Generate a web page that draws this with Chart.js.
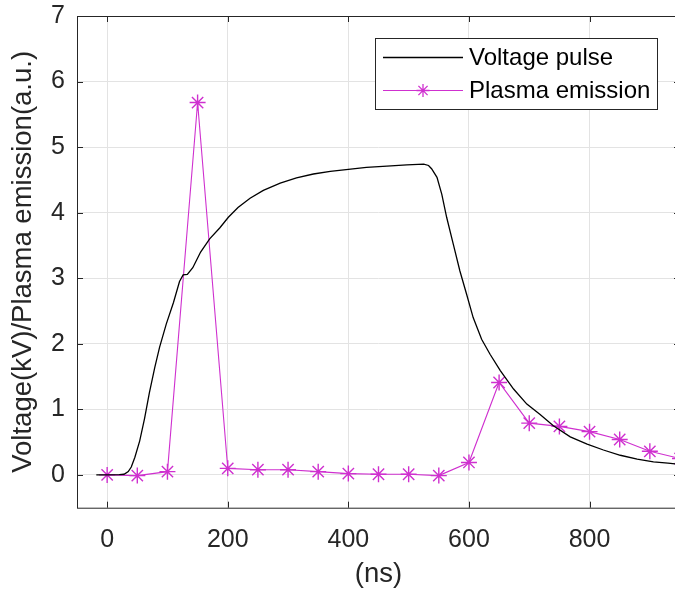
<!DOCTYPE html>
<html>
<head>
<meta charset="utf-8">
<script src="https://cdn.jsdelivr.net/npm/chart.js@4.4.1/dist/chart.umd.min.js"></script>
<style>
  html, body { margin: 0; padding: 0; background: #fff; overflow: hidden; }
  canvas { display: block; }
</style>
</head>
<body>
<canvas id="pulseChart" width="690" height="591"></canvas>
<script>
// voltage pulse (ns, kV)
const voltTime = [-18, 0, 20, 28, 35, 40, 46, 54, 62, 70, 79, 87, 98, 110, 120, 126, 133, 142, 155, 170,
    187, 201, 217, 237, 259, 287, 314, 342, 370, 400, 430, 464, 497, 525, 533, 538, 547, 555, 563, 574,
    585, 596, 607, 621, 635, 652, 674, 696, 718, 740, 768, 796, 823, 851, 879, 906, 930, 950];
const voltValue = [0, 0, 0.005, 0.01, 0.05, 0.12, 0.27, 0.52, 0.86, 1.25, 1.64, 1.95, 2.30, 2.63, 2.95, 3.05, 3.06, 3.16, 3.40, 3.60,
    3.77, 3.93, 4.08, 4.22, 4.34, 4.45, 4.53, 4.59, 4.63, 4.66, 4.69, 4.71, 4.73, 4.74, 4.72, 4.67, 4.54, 4.28, 3.93, 3.52,
    3.11, 2.76, 2.40, 2.07, 1.84, 1.59, 1.31, 1.08, 0.92, 0.75, 0.58, 0.47, 0.38, 0.30, 0.24, 0.20, 0.18, 0.16];

// plasma emission samples (a.u.)
const plasmaTime = [0, 50, 100, 150, 200, 250, 300, 350, 400, 450, 500, 550, 600, 650, 700, 750, 800, 850, 900, 950];
const plasmaValue = [0, -0.01, 0.05, 5.68, 0.10, 0.08, 0.08, 0.05, 0.02, 0.01, 0.01, -0.01, 0.19, 1.41, 0.79, 0.74, 0.66, 0.54, 0.36, 0.25];

const seriesNames = ["Voltage pulse", "Plasma emission"];
const xTickValues = [0, 200, 400, 600, 800];
const yTickValues = [0, 1, 2, 3, 4, 5, 6, 7];

const axisColor = "#262626";
const gridColor = "#e3e3e3";
const magenta = "#cf30cf";
const fontFamily = "'Liberation Sans', Arial, sans-serif";

function drawStar(ctx, x, y, r) {
    const d = r * Math.cos(Math.PI / 4);
    ctx.beginPath();
    ctx.moveTo(x - r, y); ctx.lineTo(x + r, y);
    ctx.moveTo(x, y - r); ctx.lineTo(x, y + r);
    ctx.moveTo(x - d, y - d); ctx.lineTo(x + d, y + d);
    ctx.moveTo(x - d, y + d); ctx.lineTo(x + d, y - d);
    ctx.stroke();
}

// matlab-style box with inward ticks, plus the boxed legend
const boxPlugin = {
    id: "boxPlugin",
    afterDraw(chart) {
        const ctx = chart.ctx;
        const a = chart.chartArea;
        const xs = chart.scales.x, ys = chart.scales.y;
        const tick = 6;
        ctx.save();
        ctx.strokeStyle = axisColor;
        ctx.lineWidth = 1;
        ctx.strokeRect(a.left + 0.5, a.top + 0.5, a.right - a.left, a.bottom - a.top);
        ctx.beginPath();
        xTickValues.forEach(v => {
            const px = Math.round(xs.getPixelForValue(v)) + 0.5;
            ctx.moveTo(px, a.bottom); ctx.lineTo(px, a.bottom - tick);
            ctx.moveTo(px, a.top); ctx.lineTo(px, a.top + tick);
        });
        yTickValues.forEach(v => {
            const py = Math.round(ys.getPixelForValue(v)) + 0.5;
            ctx.moveTo(a.left, py); ctx.lineTo(a.left + tick, py);
            ctx.moveTo(a.right, py); ctx.lineTo(a.right - tick, py);
        });
        ctx.stroke();

        // legend
        const lx = 375.5, ly = 38.5, lw = 282, lh = 71;
        ctx.fillStyle = "#fff";
        ctx.fillRect(lx, ly, lw, lh);
        ctx.strokeStyle = axisColor;
        ctx.strokeRect(lx, ly, lw, lh);
        const rows = [57.5, 90.5];
        ctx.font = "24px " + fontFamily;
        ctx.textBaseline = "middle";
        ctx.textAlign = "left";
        ctx.fillStyle = "#000";
        chart.data.datasets.forEach((ds, i) => {
            ctx.strokeStyle = ds.borderColor;
            ctx.lineWidth = ds.borderWidth;
            ctx.beginPath();
            ctx.moveTo(383, rows[i]); ctx.lineTo(463, rows[i]);
            ctx.stroke();
            if (ds.pointRadius > 0) {
                ctx.lineWidth = 1.3;
                drawStar(ctx, 423, rows[i], 6.5);
            }
            ctx.fillText(ds.label, 469, rows[i] + 1);
        });
        ctx.restore();
    }
};

const voltData = voltTime.map((t, i) => ({ x: t, y: voltValue[i] }));
const plasmaData = plasmaTime.map((t, i) => ({ x: t, y: plasmaValue[i] }));

new Chart(document.getElementById("pulseChart").getContext("2d"), {
    type: "line",
    data: {
        datasets: [
            {
                label: seriesNames[0],
                data: voltData,
                borderColor: "#000",
                borderWidth: 1.3,
                pointRadius: 0,
                tension: 0
            },
            {
                label: seriesNames[1],
                data: plasmaData,
                borderColor: magenta,
                borderWidth: 1.1,
                pointStyle: "star",
                pointRadius: 8,
                pointBorderWidth: 1.4,
                pointBorderColor: magenta,
                pointBackgroundColor: magenta,
                tension: 0
            }
        ]
    },
    options: {
        responsive: false,
        animation: false,
        layout: { padding: { left: 0, top: 16, right: 10, bottom: 0 } },
        plugins: { legend: { display: false }, tooltip: { enabled: false } },
        scales: {
            x: {
                type: "linear",
                min: -50,
                max: 950,
                afterBuildTicks: s => { s.ticks = xTickValues.map(v => ({ value: v })); },
                afterFit: s => { s.height = 83.3; s.paddingLeft = 0; s.paddingRight = 0; },
                grid: { color: gridColor, drawTicks: false },
                border: { display: false },
                ticks: {
                    color: axisColor,
                    padding: 17,
                    maxRotation: 0,
                    font: { family: fontFamily, size: 25 }
                },
                title: {
                    display: true,
                    text: "(ns)",
                    color: axisColor,
                    padding: { top: 0, bottom: 0 },
                    font: { family: fontFamily, size: 27.5 }
                }
            },
            y: {
                min: -0.5,
                max: 7,
                afterBuildTicks: s => { s.ticks = yTickValues.map(v => ({ value: v })); },
                afterFit: s => { s.width = 77; s.paddingTop = 0; s.paddingBottom = 0; },
                grid: { color: gridColor, drawTicks: false },
                border: { display: false },
                ticks: {
                    color: axisColor,
                    padding: 12,
                    font: { family: fontFamily, size: 25 }
                },
                title: {
                    display: true,
                    text: "Voltage(kV)/Plasma emission(a.u.)",
                    color: axisColor,
                    padding: { top: 7, bottom: 0 },
                    font: { family: fontFamily, size: 27.5 }
                }
            }
        }
    },
    plugins: [boxPlugin]
});
</script>
</body>
</html>
